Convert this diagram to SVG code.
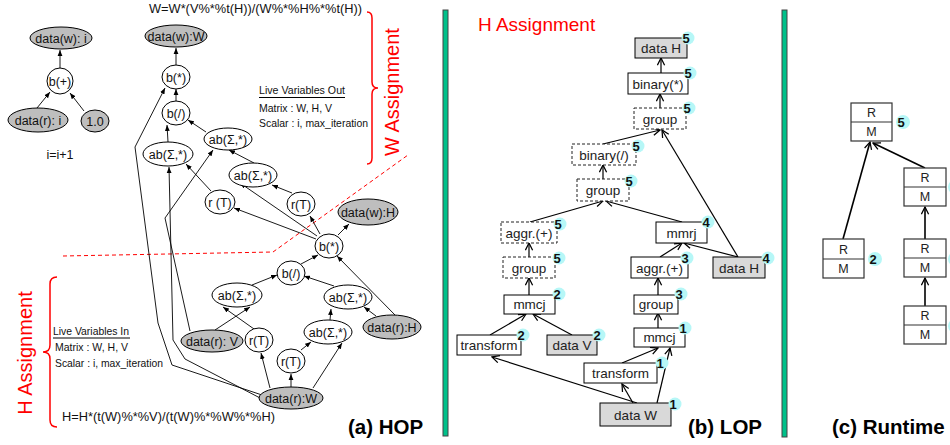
<svg xmlns="http://www.w3.org/2000/svg" width="950" height="445" viewBox="0 0 950 445">
<style>
text{font-family:"Liberation Sans",Arial,sans-serif;}
.he{fill:#fff;stroke:#000;stroke-width:1;}
.hg{fill:#bebebe;stroke:#000;stroke-width:1;}
.ht{font-size:12.5px;fill:#111;text-anchor:middle;}
.hl{fill:none;stroke:#000;stroke-width:0.9;marker-end:url(#ha);}
.lb{fill:#fff;stroke:#000;stroke-width:1;}
.lg{fill:#d9d9d9;stroke:#000;stroke-width:1;}
.ld{fill:#fff;stroke:#222;stroke-width:1;stroke-dasharray:3,2;}
.lt{font-size:13.5px;fill:#222;text-anchor:middle;}
.ll{fill:none;stroke:#000;stroke-width:1.2;marker-end:url(#la);}
.rl{fill:none;stroke:#000;stroke-width:1.6;marker-end:url(#la);}
.bc{fill:#b6f7f7;}
.bt{font-size:13px;font-weight:bold;fill:#111;text-anchor:middle;}
.rb{fill:#fff;stroke:#333;stroke-width:1.2;}
.rt{font-size:12.5px;fill:#222;text-anchor:middle;}
.lv{font-size:11px;fill:#111;}
.cap{font-size:20.5px;font-weight:bold;fill:#000;}
.red{fill:#ff0000;}
.bar{fill:#00c18a;stroke:#444;stroke-width:1;}
</style>
<defs>
<marker id="ha" viewBox="0 0 10 10" refX="10" refY="5" markerWidth="6" markerHeight="6" markerUnits="userSpaceOnUse" orient="auto"><path d="M0,1 L10,5 L0,9 z" fill="#000"/></marker>
<marker id="la" viewBox="0 0 10 10" refX="9" refY="5" markerWidth="9" markerHeight="9" markerUnits="userSpaceOnUse" orient="auto"><path d="M1,1 L9,5 L1,9" fill="none" stroke="#000" stroke-width="1.4"/></marker>
</defs>

<!-- separators -->
<rect class="bar" x="443" y="10" width="5" height="426"/>
<rect class="bar" x="782" y="10" width="5" height="427"/>

<!-- HOP texts -->
<text x="149" y="13" font-size="12.5" fill="#111" textLength="213" lengthAdjust="spacingAndGlyphs">W=W*(V%*%t(H))/(W%*%H%*%t(H))</text>
<text x="60" y="159" font-size="12.5" fill="#111" text-anchor="middle">i=i+1</text>
<text x="62" y="421" font-size="12.5" fill="#111" textLength="213" lengthAdjust="spacingAndGlyphs">H=H*(t(W)%*%V)/(t(W)%*%W%*%H)</text>
<text class="lv" x="259" y="94" textLength="86" lengthAdjust="spacingAndGlyphs">Live Variables Out</text>
<line x1="259" y1="97.5" x2="345" y2="97.5" stroke="#000" stroke-width="1"/>
<text class="lv" x="259" y="112" textLength="73" lengthAdjust="spacingAndGlyphs">Matrix : W, H, V</text>
<text class="lv" x="259" y="127" textLength="109" lengthAdjust="spacingAndGlyphs">Scalar : i, max_iteration</text>
<text class="lv" x="53" y="335" textLength="76" lengthAdjust="spacingAndGlyphs">Live Variables In</text>
<line x1="53" y1="338" x2="130" y2="338" stroke="#000" stroke-width="1"/>
<text class="lv" x="55" y="351" textLength="73" lengthAdjust="spacingAndGlyphs">Matrix : W, H, V</text>
<text class="lv" x="55" y="367" textLength="108" lengthAdjust="spacingAndGlyphs">Scalar : i, max_iteration</text>
<text class="red" x="0" y="0" font-size="20" text-anchor="middle" transform="translate(399,92) rotate(-90)">W Assignment</text>
<text class="red" x="0" y="0" font-size="20" text-anchor="middle" transform="translate(32,353) rotate(-90)">H Assignment</text>
<path d="M367,12 Q372,12 372,18 L372,82 Q372,88 378,88 Q372,88 372,94 L372,158 Q372,164 367,164" fill="none" stroke="#f00" stroke-width="1.5"/>
<path d="M57,277 Q50,277 50,284 L50,345 Q50,352 43,352 Q50,352 50,359 L50,420 Q50,427 57,427" fill="none" stroke="#f00" stroke-width="1.5"/>
<path d="M63,256 L273,252 L408,155" fill="none" stroke="#f00" stroke-width="1" stroke-dasharray="4,3"/>
<text class="cap" x="348" y="434">(a) HOP</text>
<text class="cap" x="688" y="434">(b) LOP</text>
<text class="cap" x="832" y="434">(c) Runtime</text>
<text class="red" x="478" y="31" font-size="19">H Assignment</text>

<!-- connectors -->
<g id="connectors">
<path class="hl" d="M60,68 L60,50"/>
<path class="hl" d="M37,108 L50,92"/>
<path class="hl" d="M84,111 L70,93"/>
<path class="hl" d="M176,65 L176,48"/>
<path class="hl" d="M176,101 L176,89"/>
<path class="hl" d="M168,142 L167,125"/>
<path class="hl" d="M206,132 L188,120"/>
<path class="hl" d="M254,163 L229,150"/>
<path class="hl" d="M292,193 L272,185"/>
<path class="hl" d="M211,191 L186,164"/>
<path class="hl" d="M320,234 L310,216"/>
<path class="hl" d="M317,236 L240,183"/>
<path class="hl" d="M316,239 L234,208"/>
<path class="hl" d="M338,235 L349,224"/>
<path class="hl" d="M301,264 L318,255"/>
<path class="hl" d="M252,285 L277,275"/>
<path class="hl" d="M334,286 L304,276"/>
<path class="hl" d="M395,315 L337,256"/>
<path class="hl" d="M376,316 L364,307"/>
<path class="hl" d="M330,320 L331,309"/>
<path class="hl" d="M301,350 L311,342"/>
<path class="hl" d="M291,387 L291,374"/>
<path class="hl" d="M313,388 L342,343"/>
<path class="hl" d="M270,388 L261,353"/>
<path class="hl" d="M254,329 L223,307"/>
<path class="hl" d="M215,330 L250,307"/>
<path class="hl" d="M262,395 L172,365 L158,323 L135,147 L165,88"/>
<path class="hl" d="M262,399 L185,359 L173,340 L169,167"/>
<path class="hl" d="M190,331 L165,218 L213,150"/>

<path class="ll" d="M661,73 L661,58"/>
<path class="ll" d="M660,108 L660,94"/>
<path class="ll" d="M603,144 L660,130"/>
<path class="ll" d="M738,257 L662,130"/>
<path class="ll" d="M603,179 L603,165"/>
<path class="ll" d="M530,222 L603,201"/>
<path class="ll" d="M682,222 L606,201"/>
<path class="ll" d="M529,257 L529,243"/>
<path class="ll" d="M529,295 L529,278"/>
<path class="ll" d="M490,335 L526,314"/>
<path class="ll" d="M572,335 L533,314"/>
<path class="ll" d="M637,403 L492,357"/>
<path class="ll" d="M633,403 L622,384"/>
<path class="ll" d="M657,403 L670,348"/>
<path class="ll" d="M622,363 L658,348"/>
<path class="ll" d="M658,328 L658,313"/>
<path class="ll" d="M658,295 L658,278"/>
<path class="ll" d="M660,257 L682,243"/>
<path class="ll" d="M738,257 L684,243"/>

<path class="rl" d="M843,239 L870,142"/>
<path class="rl" d="M925,168 L873,143"/>
<path class="rl" d="M925,239 L925,207"/>
<path class="rl" d="M925,306 L925,278"/>
</g>

<!-- HOP nodes -->
<g id="h_dwi"><ellipse class="hg" cx="61" cy="38" rx="31" ry="11"/><text class="ht" x="61" y="42.5">data(w): i</text></g>
<g id="h_bplus"><ellipse class="he" cx="60" cy="81" rx="13" ry="13"/><text class="ht" x="60" y="85.5">b(+)</text></g>
<g id="h_dri"><ellipse class="hg" cx="38" cy="120" rx="30" ry="12"/><text class="ht" x="38" y="124.5">data(r): i</text></g>
<g id="h_one"><ellipse class="hg" cx="95" cy="121" rx="14" ry="11"/><text class="ht" x="95" y="125.5">1.0</text></g>
<g id="h_dwW"><ellipse class="hg" cx="176" cy="36" rx="31" ry="11"/><text class="ht" x="176" y="40.5">data(w):W</text></g>
<g id="h_bmul1"><ellipse class="he" cx="176" cy="77" rx="14" ry="12"/><text class="ht" x="176" y="81.5">b(*)</text></g>
<g id="h_bdiv1"><ellipse class="he" cx="176" cy="113" rx="14" ry="12"/><text class="ht" x="176" y="117.5">b(/)</text></g>
<g id="h_abL"><ellipse class="he" cx="168" cy="154" rx="25" ry="12"/><text class="ht" x="168" y="158.5">ab(Σ,*)</text></g>
<g id="h_abM"><ellipse class="he" cx="228" cy="139" rx="24" ry="11"/><text class="ht" x="228" y="143.5">ab(Σ,*)</text></g>
<g id="h_abR"><ellipse class="he" cx="253" cy="175" rx="24" ry="12"/><text class="ht" x="253" y="179.5">ab(Σ,*)</text></g>
<g id="h_rT1"><ellipse class="he" cx="220" cy="202" rx="15" ry="12"/><text class="ht" x="220" y="206.5">r (T)</text></g>
<g id="h_rT2"><ellipse class="he" cx="301" cy="204" rx="14" ry="12"/><text class="ht" x="301" y="208.5">r(T)</text></g>
<g id="h_dwH"><ellipse class="hg" cx="368" cy="212" rx="30" ry="13"/><text class="ht" x="368" y="216.5">data(w):H</text></g>
<g id="h_bmul2"><ellipse class="he" cx="329" cy="246" rx="14" ry="12"/><text class="ht" x="329" y="250.5">b(*)</text></g>
<g id="h_bdiv2"><ellipse class="he" cx="291" cy="273" rx="14" ry="12"/><text class="ht" x="291" y="277.5">b(/)</text></g>
<g id="h_abLL"><ellipse class="he" cx="237" cy="295" rx="25" ry="12"/><text class="ht" x="237" y="299.5">ab(Σ,*)</text></g>
<g id="h_abLR"><ellipse class="he" cx="348" cy="297" rx="24" ry="12"/><text class="ht" x="348" y="301.5">ab(Σ,*)</text></g>
<g id="h_drV"><ellipse class="hg" cx="212" cy="341" rx="31" ry="11"/><text class="ht" x="212" y="345.5">data(r): V</text></g>
<g id="h_rT3"><ellipse class="he" cx="259" cy="340" rx="14" ry="12"/><text class="ht" x="259" y="344.5">r(T)</text></g>
<g id="h_abLM"><ellipse class="he" cx="328" cy="332" rx="24" ry="12"/><text class="ht" x="328" y="336.5">ab(Σ,*)</text></g>
<g id="h_drH"><ellipse class="hg" cx="392" cy="327" rx="29" ry="12"/><text class="ht" x="392" y="331.5">data(r):H</text></g>
<g id="h_rT4"><ellipse class="he" cx="291" cy="361" rx="14" ry="12"/><text class="ht" x="291" y="365.5">r(T)</text></g>
<g id="h_drW"><ellipse class="hg" cx="291" cy="398" rx="32" ry="11"/><text class="ht" x="291" y="402.5">data(r):W</text></g>

<!-- LOP nodes -->
<g id="l_dataH1"><rect class="lg" x="635" y="38" width="52" height="20"/><text class="lt" x="661" y="53">data H</text><circle class="bc" cx="688" cy="38" r="6.5"/><text class="bt" x="686" y="42.5">5</text></g>
<g id="l_binMul"><rect class="lb" x="628" y="73" width="60" height="21"/><text class="lt" x="658" y="88.5">binary(*)</text><circle class="bc" cx="690" cy="73" r="6.5"/><text class="bt" x="688" y="77.5">5</text></g>
<g id="l_grp1"><rect class="ld" x="634" y="108" width="52" height="21"/><text class="lt" x="660" y="123.5">group</text><circle class="bc" cx="689" cy="108" r="6.5"/><text class="bt" x="687" y="112.5">5</text></g>
<g id="l_binDiv"><rect class="ld" x="572" y="144" width="64" height="21"/><text class="lt" x="604" y="159.5">binary(/)</text><circle class="bc" cx="638" cy="146" r="6.5"/><text class="bt" x="636" y="150.5">5</text></g>
<g id="l_grp2"><rect class="ld" x="577" y="179" width="52" height="22"/><text class="lt" x="603" y="195">group</text><circle class="bc" cx="631" cy="181" r="6.5"/><text class="bt" x="629" y="185.5">5</text></g>
<g id="l_aggrL"><rect class="ld" x="501" y="222" width="56" height="21"/><text class="lt" x="529" y="237.5">aggr.(+)</text><circle class="bc" cx="560" cy="224" r="6.5"/><text class="bt" x="558" y="228.5">5</text></g>
<g id="l_grpL"><rect class="ld" x="503" y="257" width="52" height="21"/><text class="lt" x="529" y="272.5">group</text><circle class="bc" cx="559" cy="258" r="6.5"/><text class="bt" x="557" y="262.5">5</text></g>
<g id="l_mmrj"><rect class="lb" x="656" y="222" width="51" height="21"/><text class="lt" x="681.5" y="237.5">mmrj</text><circle class="bc" cx="708" cy="222" r="6.5"/><text class="bt" x="706" y="226.5">4</text></g>
<g id="l_aggrR"><rect class="lb" x="631" y="257" width="57" height="21"/><text class="lt" x="659.5" y="272.5">aggr.(+)</text><circle class="bc" cx="687" cy="258" r="6.5"/><text class="bt" x="685" y="262.5">3</text></g>
<g id="l_dataH2"><rect class="lg" x="713" y="257" width="52" height="21"/><text class="lt" x="739" y="272.5">data H</text><circle class="bc" cx="768" cy="258" r="6.5"/><text class="bt" x="766" y="262.5">4</text></g>
<g id="l_grpR"><rect class="lb" x="634" y="295" width="44" height="19"/><text class="lt" x="656" y="309">group</text><circle class="bc" cx="681" cy="294" r="6.5"/><text class="bt" x="679" y="298.5">3</text></g>
<g id="l_mmcjL"><rect class="lb" x="504" y="295" width="51" height="19"/><text class="lt" x="529.5" y="309">mmcj</text><circle class="bc" cx="559" cy="294" r="6.5"/><text class="bt" x="557" y="298.5">2</text></g>
<g id="l_mmcjR"><rect class="lb" x="634" y="328" width="51" height="19"/><text class="lt" x="659.5" y="342">mmcj</text><circle class="bc" cx="685" cy="328" r="6.5"/><text class="bt" x="683" y="332.5">1</text></g>
<g id="l_transL"><rect class="lb" x="457" y="335" width="64" height="20"/><text class="lt" x="489" y="350">transform</text><circle class="bc" cx="523" cy="335" r="6.5"/><text class="bt" x="521" y="339.5">2</text></g>
<g id="l_dataV"><rect class="lg" x="547" y="335" width="50" height="20"/><text class="lt" x="572" y="350">data V</text><circle class="bc" cx="599" cy="335" r="6.5"/><text class="bt" x="597" y="339.5">2</text></g>
<g id="l_transR"><rect class="lb" x="584" y="363" width="73" height="20"/><text class="lt" x="620.5" y="378">transform</text><circle class="bc" cx="662" cy="363" r="6.5"/><text class="bt" x="660" y="367.5">1</text></g>
<g id="l_dataW"><rect class="lg" x="600" y="403" width="71" height="23"/><text class="lt" x="635.5" y="419.5">data W</text><circle class="bc" cx="675" cy="404" r="6.5"/><text class="bt" x="673" y="408.5">1</text></g>

<!-- Runtime nodes -->
<g id="r_top"><rect class="rb" x="851" y="103" width="41" height="38"/><line x1="851" y1="122" x2="892" y2="122" stroke="#333" stroke-width="1.2"/><text class="rt" x="871.5" y="117">R</text><text class="rt" x="871.5" y="136">M</text><circle class="bc" cx="903" cy="122" r="7"/><text class="bt" x="901" y="126.5">5</text></g>
<g id="r_left"><rect class="rb" x="823" y="239" width="41" height="39"/><line x1="823" y1="259" x2="864" y2="259" stroke="#333" stroke-width="1.2"/><text class="rt" x="843.5" y="254">R</text><text class="rt" x="843.5" y="273">M</text><circle class="bc" cx="875" cy="259" r="7"/><text class="bt" x="873" y="263.5">2</text></g>
<g id="r_r1"><rect class="rb" x="904" y="168" width="42" height="38"/><line x1="904" y1="187" x2="946" y2="187" stroke="#333" stroke-width="1.2"/><text class="rt" x="925" y="182">R</text><text class="rt" x="925" y="201">M</text><circle class="bc" cx="955" cy="187" r="7"/></g>
<g id="r_r2"><rect class="rb" x="904" y="239" width="42" height="38"/><line x1="904" y1="258" x2="946" y2="258" stroke="#333" stroke-width="1.2"/><text class="rt" x="925" y="253">R</text><text class="rt" x="925" y="272">M</text><circle class="bc" cx="955" cy="259" r="7"/></g>
<g id="r_r3"><rect class="rb" x="904" y="306" width="42" height="38"/><line x1="904" y1="325" x2="946" y2="325" stroke="#333" stroke-width="1.2"/><text class="rt" x="925" y="320">R</text><text class="rt" x="925" y="339">M</text><circle class="bc" cx="955" cy="326" r="7"/></g>
</svg>
